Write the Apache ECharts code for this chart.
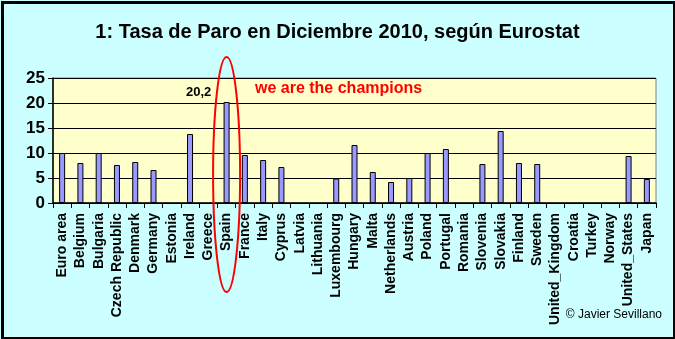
<!DOCTYPE html>
<html><head><meta charset="utf-8">
<script src="https://cdn.jsdelivr.net/npm/echarts@6/dist/echarts.min.js"></script>
<style>html,body{margin:0;padding:0;background:#fff;}#c{width:675px;height:339px;}</style>
</head><body><div id="c"></div>
<script>
var categories = ["Euro area","Belgium","Bulgaria","Czech Republic","Denmark","Germany","Estonia","Ireland","Greece","Spain","France","Italy","Cyprus","Latvia","Lithuania","Luxembourg","Hungary","Malta","Netherlands","Austria","Poland","Portugal","Romania","Slovenia","Slovakia","Finland","Sweden","United_Kingdom","Croatia","Turkey","Norway","United_States","Japan"];
var rates = [10.0,8.0,10.0,7.6,8.2,6.6,null,13.8,null,20.2,9.6,8.6,7.2,null,null,4.9,11.6,6.2,4.2,5.0,10.0,10.8,null,7.8,14.4,8.0,7.8,null,null,null,null,9.4,4.8];
var yTicks = [0,5,10,15,20,25];
var titleText = "1: Tasa de Paro en Diciembre 2010, según Eurostat";
var noteText = "we are the champions";
var highlight = "Spain";
var creditText = "© Javier Sevillano";

var chart = echarts.init(document.getElementById('c'), null, {renderer:'canvas'});
var font = 'Arial, "Liberation Sans", sans-serif';
var hi = categories.indexOf(highlight);
var seriesData = rates.map(function(v,i){
  if (i === hi) return {value:v, label:{show:true, position:'top', offset:[-28,2], formatter:function(p){return String(p.value).replace('.',',');}, color:'#000', fontWeight:'bold', fontSize:13, fontFamily:font}};
  return v;
});
chart.setOption({
  animation:false,
  backgroundColor:'#CCFFFF',
  title:{text:titleText, left:'center', top:17, textStyle:{fontFamily:font, fontSize:20, fontWeight:'bold', color:'#000'}},
  grid:{left:53, right:19, top:78, bottom:136, show:true, backgroundColor:'#FFFFCC', borderColor:'#808080', borderWidth:1},
  xAxis:{type:'category', data:categories, boundaryGap:true,
    axisLine:{lineStyle:{color:'#000', width:1.5}},
    axisTick:{show:true, alignWithLabel:false, length:5, lineStyle:{color:'#000'}},
    axisLabel:{rotate:90, interval:0, margin:10, color:'#000', fontFamily:font, fontSize:14, fontWeight:'bold'}},
  yAxis:{type:'value', min:yTicks[0], max:yTicks[yTicks.length-1], interval:5,
    axisLine:{show:true, lineStyle:{color:'#000', width:1.5}},
    axisTick:{show:true, length:5, lineStyle:{color:'#000'}},
    splitLine:{show:true, lineStyle:{color:'#000', width:1.2}},
    axisLabel:{color:'#000', fontFamily:font, fontSize:17, fontWeight:'bold', margin:8}},
  series:[{type:'bar', data:seriesData, barWidth:6,
    itemStyle:{color:'#9999FF', borderColor:'#000', borderWidth:1}}],
  graphic:[
    {type:'rect', left:0, top:0, shape:{x:1.5,y:1.5,width:672,height:336}, style:{fill:'none', stroke:'#000', lineWidth:3}, silent:true},
    {type:'text', left:255, top:81, style:{text:noteText, fill:'#FF0000', fontSize:16, fontWeight:'bold', fontFamily:font}},
    {type:'text', right:13, top:309, style:{text:creditText, fill:'#000', fontSize:12, fontFamily:font}}
  ]
});
var cx = chart.convertToPixel({xAxisIndex:0}, highlight);
chart.setOption({graphic:[{}, {}, {}, {type:'ellipse', shape:{cx:cx, cy:174.5, rx:13.5, ry:117.5}, style:{fill:'none', stroke:'#FF0000', lineWidth:2}, z:100, silent:true}]});
</script></body></html>
